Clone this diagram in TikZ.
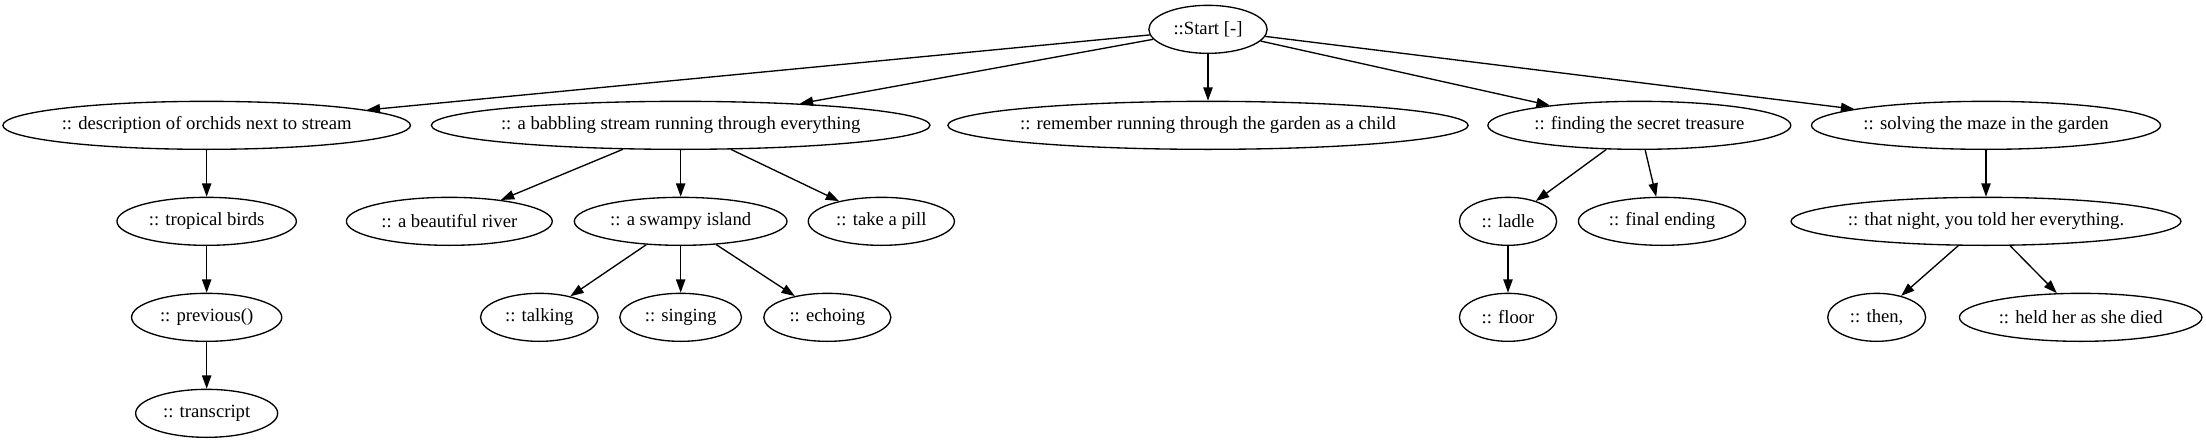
\documentclass[tikz,border=0pt]{standalone}
\usepackage{fontspec}
\setmainfont{Liberation Serif}
\usetikzlibrary{arrows.meta,shapes.geometric}

\newdimen\gvlen
\newcommand\gvfont{\fontsize{14}{16}\selectfont}
\newcommand\gvnode[3]{%
    \pgfinterruptpicture\settowidth\gvlen{\gvfont #3}\global\gvlen=\gvlen\endpgfinterruptpicture
    \pgfmathsetmacro\gvwidth{max(54,1.31*\the\gvlen+20.96)}%
    \node[gv, minimum width=\gvwidth pt] (#1) at (#2) {#3};}

\tikzset{
    gv/.style={draw, ellipse, line width=1pt, minimum height=36pt,
        inner xsep=-8pt, inner ysep=0pt, font=\gvfont},
    link/.style={-{Triangle[length=10pt,width=7pt]}, line width=1pt}
}

\begin{document}
\begin{tikzpicture}[x=1pt, y=-1pt]
    \useasboundingbox (0,0) rectangle (1654.5,332.25);

    \gvnode{start}{906,22}{::Start [-]}

    \gvnode{orchids}{155,94}{:: description of orchids next to stream}
    \gvnode{stream}{510.5,94}{:: a babbling stream running through everything}
    \gvnode{garden}{906,94}{:: remember running through the garden as a child}
    \gvnode{treasure}{1229.5,94}{:: finding the secret treasure}
    \gvnode{maze}{1489.5,94}{:: solving the maze in the garden}

    \gvnode{birds}{155,166}{:: tropical birds}
    \gvnode{river}{337,166}{:: a beautiful river}
    \gvnode{island}{510.5,166}{:: a swampy island}
    \gvnode{pill}{661,166}{:: take a pill}
    \gvnode{ladle}{1131,166}{:: ladle}
    \gvnode{ending}{1246.5,166}{:: final ending}
    \gvnode{night}{1489.5,166}{:: that night, you told her everything.}

    \gvnode{previous}{155,238}{:: previous()}
    \gvnode{talking}{404.5,238}{:: talking}
    \gvnode{singing}{510.5,238}{:: singing}
    \gvnode{echoing}{620.5,238}{:: echoing}
    \gvnode{floor}{1131,238}{:: floor}
    \gvnode{then}{1407.5,238}{:: then,}
    \gvnode{died}{1560.5,238}{:: held her as she died}

    \gvnode{transcript}{155,310}{:: transcript}

    \draw[link] (start) -- (orchids);
    \draw[link] (start) -- (stream);
    \draw[link] (start) -- (garden);
    \draw[link] (start) -- (treasure);
    \draw[link] (start) -- (maze);

    \draw[link] (orchids) -- (birds);
    \draw[link] (birds) -- (previous);
    \draw[link] (previous) -- (transcript);

    \draw[link] (stream) -- (river);
    \draw[link] (stream) -- (island);
    \draw[link] (stream) -- (pill);
    \draw[link] (island) -- (talking);
    \draw[link] (island) -- (singing);
    \draw[link] (island) -- (echoing);

    \draw[link] (treasure) -- (ladle);
    \draw[link] (treasure) -- (ending);
    \draw[link] (ladle) -- (floor);

    \draw[link] (maze) -- (night);
    \draw[link] (night) -- (then);
    \draw[link] (night) -- (died);
\end{tikzpicture}
\end{document}
